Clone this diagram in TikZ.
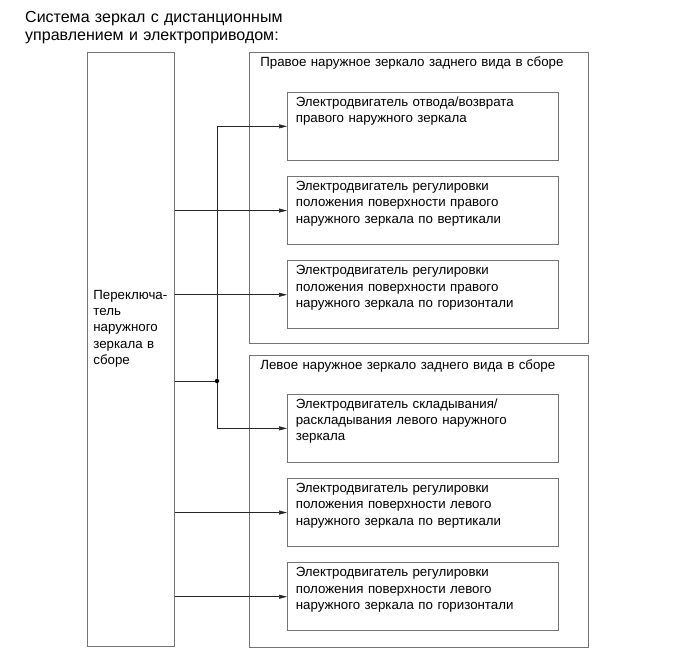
\documentclass[tikz,border=0pt]{standalone}
\usepackage{fontspec}
\setmainfont{Liberation Sans}
\usepackage{tikz}
\usetikzlibrary{arrows.meta,positioning}

\begin{document}
\begin{tikzpicture}[
  x=1pt, y=-1pt,
  box/.style={draw=black!55, line width=0.7pt, anchor=north west,
    align=left, font=\fontsize{13.3}{16.3}\selectfont},
  motor/.style={box, text width=254pt, inner xsep=8.5pt, inner ysep=4pt,
    text height=10pt, text depth=50pt},
  group/.style={box, text width=317pt, inner xsep=11pt, inner ysep=4pt,
    text height=10pt, text depth=#1},
  arr/.style={-{Triangle[length=8pt,width=4pt]}, line width=0.6pt, draw=black!85},
  wire/.style={line width=0.6pt, draw=black!85},
  node distance=15.5pt
]
\useasboundingbox (0,0) rectangle (690,659);
\node[anchor=base west, inner sep=0, text width=320pt, align=left,
  font=\fontsize{16}{18}\selectfont] (title) at (25,22.5)
  {Система зеркал с дистанционным\\управлением и электроприводом:};
\node[box, text width=75pt, inner xsep=6pt, inner ysep=4pt,
  text height=243pt, text depth=343pt] (switch) at (87,52)
  {Переключа-\\тель\\наружного\\зеркала в\\сборе};
\node[group=273pt] (rhgroup) at (249,52)
  {Правое наружное зеркало заднего вида в сборе};
\node[group=274pt, below=11pt of rhgroup] (lhgroup)
  {Левое наружное зеркало заднего вида в сборе};
\node[motor] (m1) at (287,92)
  {Электродвигатель отвода/возврата\\правого наружного зеркала};
\node[motor, below=of m1] (m2)
  {Электродвигатель регулировки\\положения поверхности правого\\наружного зеркала по вертикали};
\node[motor, below=of m2] (m3)
  {Электродвигатель регулировки\\положения поверхности правого\\наружного зеркала по горизонтали};
\node[motor] (m4) at (287,394)
  {Электродвигатель складывания/\\раскладывания левого наружного\\зеркала};
\node[motor, below=of m4] (m5)
  {Электродвигатель регулировки\\положения поверхности левого\\наружного зеркала по вертикали};
\node[motor, below=of m5] (m6)
  {Электродвигатель регулировки\\положения поверхности левого\\наружного зеркала по горизонтали};
\node[circle, fill=black, inner sep=0, minimum size=4.5pt] (split) at (217,381) {};
\draw[arr] (switch.east |- m2.west) -- (m2.west);
\draw[arr] (switch.east |- m3.west) -- (m3.west);
\draw[arr] (switch.east |- m5.west) -- (m5.west);
\draw[arr] (switch.east |- m6.west) -- (m6.west);
\draw[wire] (switch.east |- split) -- (split);
\draw[arr] (split) |- (m1.west);
\draw[arr] (split) |- (m4.west);
\end{tikzpicture}
\end{document}
